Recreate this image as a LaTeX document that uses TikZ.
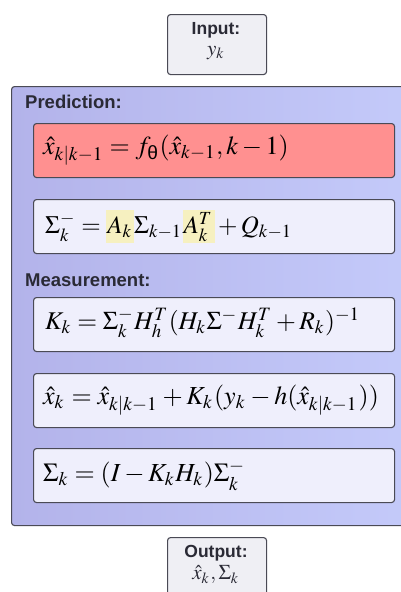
\documentclass[tikz,border=0pt]{standalone}
\usepackage{amsmath}
\usepackage{mathptmx}
\usepackage{fontspec}
\newfontfamily\lbl{Liberation Sans}
\definecolor{bordc}{HTML}{4A4A55}
\definecolor{contL}{HTML}{B3B3EA}
\definecolor{contR}{HTML}{C4CAFA}
\definecolor{redc}{HTML}{FF9090}
\definecolor{innerc}{HTML}{EFEFFC}
\definecolor{ioc}{HTML}{EFEFF4}
\definecolor{labc}{HTML}{2A2A35}
\definecolor{hlc}{HTML}{F6F0C0}
\newcommand{\hlbox}[1]{{\setlength\fboxsep{0pt}\colorbox{hlc}{\rule[-9pt]{0pt}{33pt}\kern1pt$#1$\kern1.5pt}}}
\newcommand{\thsub}{\text{\lbl θ}}
\newcommand{\widemath}{\scriptspace=1.5pt}
\newcommand{\widermath}{\scriptspace=2.2pt}
\begin{document}
\begin{tikzpicture}[x=1pt,y=-1pt,
  box/.style={draw=bordc, line width=1.1pt, rounded corners=3pt},
  eqbox/.style={box, fill=innerc, minimum width=361, minimum height=54, anchor=north west, inner sep=0},
  eq/.style={anchor=west, inner sep=0, font=\fontsize{26}{30}\selectfont\widemath},
  lab/.style={anchor=west, inner sep=0, font=\lbl\bfseries\fontsize{18.5}{22}\selectfont, text=labc},
  iotitle/.style={inner sep=0, font=\lbl\bfseries\fontsize{17.5}{21}\selectfont, text=labc},
  iomath/.style={inner sep=0, font=\fontsize{21}{25}\selectfont\widemath, text=labc}]
\useasboundingbox (0,0) rectangle (400,592);
% container
\node[box, left color=contL, right color=contR, minimum width=402, minimum height=439, anchor=north west, inner sep=0] (kf) at (11,86) {};
\node[lab] (predlab) at (25,102) {Prediction:};
\node[lab] (measlab) at (25,280) {Measurement:};
% equation boxes
\node[eqbox, fill=redc] (b1) at (33,123) {};
\node[eqbox] (b2) at (33,199) {};
\node[eqbox] (b3) at (33,297) {};
\node[eqbox] (b4) at (33,373) {};
\node[eqbox] (b5) at (33,448) {};
\node[eq] (e1) at (43,150) {$\hat{x}_{k|k-1} = f_{\thsub}(\hat{x}_{k-1}, k-1)$};
\node[eq, font=\fontsize{25}{29}\selectfont\widemath] (e2) at (45,226) {$\Sigma_k^- = \hlbox{A_k}\Sigma_{k-1}\hlbox{A_k^T} + Q_{k-1}$};
\node[eq, font=\fontsize{25.5}{29}\selectfont\widemath] (e3) at (45,323) {$K_k = \Sigma_k^- H_h^T (H_k \Sigma^- H_k^T + R_k)^{-1}$};
\node[eq, font=\fontsize{26}{30}\selectfont\widermath] (e4) at (43,400) {$\hat{x}_k = \hat{x}_{k|k-1} + K_k(y_k - h(\hat{x}_{k|k-1}))$};
\node[eq] (e5) at (43,475) {$\Sigma_k = (I - K_k H_k)\Sigma_k^-$};
% input / output
\node[box, fill=ioc, minimum width=99, minimum height=60, anchor=north west] (inbox) at (167,14) {};
\node[iotitle] (intitle) at (216,30) {Input:};
\node[iomath] (iny) at (216,53) {$y_k$};
\node[box, fill=ioc, minimum width=99, minimum height=70, anchor=north west] (outbox) at (167,537) {};
\node[iotitle] (outtitle) at (216,553) {Output:};
\node[iomath] (outx) at (216,575) {$\hat{x}_k, \Sigma_k$};
\end{tikzpicture}
\end{document}
